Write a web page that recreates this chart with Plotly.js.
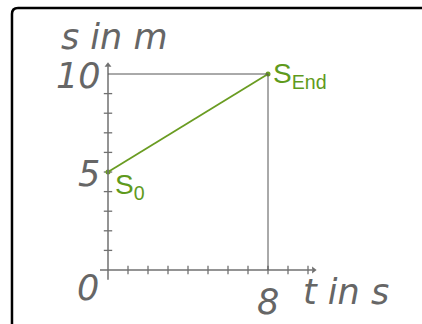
<!DOCTYPE html>
<html>
<head>
<meta charset="utf-8">
<script src="https://cdn.plot.ly/plotly-3.0.1.min.js"></script>
<style>html,body{margin:0;padding:0;background:#fff;overflow:hidden;}#chart{width:422px;height:324px;}</style>
</head>
<body>
<div id="chart"></div>
<script>
// Data
const times = [0, 8];            // t in s
const positions = [5, 10];       // s in m
const xTickValues = [1, 2, 3, 4, 5, 6, 7, 8, 9, 10];
const yTickValues = [1, 2, 3, 4, 5, 6, 7, 8, 9];
const yTickLabels = ["10", "5"];
const yTickLabelValues = [10, 5];
const originLabel = "0";
const xTickLabel = "8";
const xTickLabelValue = 8;
const startLabel = "S<sub>0</sub>";
const endLabel = "S<sub>End</sub>";
const yAxisTitle = "s in m";
const xAxisTitle = "t in s";

const gray = '#666666';
const axisGray = '#707070';
const green = '#6a9c22';
const greenText = '#5f9a1c';
const grayFont = {family: 'DejaVu Sans', size: 35, color: gray, style: 'italic'};
const greenFont = {family: 'Liberation Sans, Arial', size: 28, color: greenText};

const tEnd = times[times.length - 1];
const sEnd = positions[positions.length - 1];
const sStart = positions[0];

const traces = [
  {x: yTickValues.map(() => 0), y: yTickValues, mode: 'markers', hoverinfo: 'skip',
   marker: {symbol: 'line-ew', size: 6, line: {width: 1.3, color: axisGray}}},
  {x: xTickValues, y: xTickValues.map(() => 0), mode: 'markers', hoverinfo: 'skip',
   marker: {symbol: 'line-ns', size: 6, line: {width: 1.3, color: axisGray}}},
  {x: [0], y: [10.45], mode: 'markers', hoverinfo: 'skip',
   marker: {symbol: 'triangle-up', size: 6, color: axisGray}},
  {x: [10.28], y: [0], mode: 'markers', hoverinfo: 'skip',
   marker: {symbol: 'triangle-right', size: 6, color: axisGray}},
  {x: times, y: positions, mode: 'lines+markers', hoverinfo: 'skip',
   line: {color: green, width: 1.8}, marker: {color: green, size: 5}}
];

const shapes = [
  // frame: top and left edges, cropped at right and bottom
  {type: 'line', xref: 'paper', yref: 'paper', x0: 0.0426, x1: 1.0, y0: 0.9753, y1: 0.9753,
   line: {color: '#000', width: 2.5}},
  {type: 'line', xref: 'paper', yref: 'paper', x0: 0.0284, x1: 0.0284, y0: 0.0, y1: 0.9568,
   line: {color: '#000', width: 2.5}},
  {type: 'path', xref: 'paper', yref: 'paper',
   path: 'M 0.0284,0.9568 Q 0.0284,0.9753 0.0426,0.9753',
   line: {color: '#000', width: 2.5}},
  // axes
  {type: 'line', xref: 'x', yref: 'y', x0: 0, x1: 0, y0: -0.5, y1: 10.4, line: {color: axisGray, width: 1.5}},
  {type: 'line', xref: 'x', yref: 'y', x0: -0.4, x1: 10.2, y0: 0, y1: 0, line: {color: axisGray, width: 1.5}},
  // guide lines
  {type: 'line', xref: 'x', yref: 'y', x0: 0, x1: tEnd, y0: sEnd, y1: sEnd, line: {color: '#555', width: 1}},
  {type: 'line', xref: 'x', yref: 'y', x0: tEnd, x1: tEnd, y0: 0, y1: sEnd, line: {color: '#555', width: 1}}
];

const annotations = [
  {x: 0.3, y: 11.9, text: yAxisTitle, xanchor: 'center', yanchor: 'middle', font: grayFont},
  {x: 11.9, y: -1.12, text: xAxisTitle, xanchor: 'center', yanchor: 'middle', font: grayFont},
  {x: -0.3, y: yTickLabelValues[0] - 0.1, text: yTickLabels[0], xanchor: 'right', yanchor: 'middle', font: grayFont},
  {x: -0.35, y: yTickLabelValues[1] - 0.1, text: yTickLabels[1], xanchor: 'right', yanchor: 'middle', font: grayFont},
  {x: -0.4, y: -0.92, text: originLabel, xanchor: 'right', yanchor: 'middle', font: grayFont},
  {x: xTickLabelValue, y: -1.63, text: xTickLabel, xanchor: 'center', yanchor: 'middle', font: grayFont},
  {x: 0.3, y: sStart - 0.75, text: startLabel, xanchor: 'left', yanchor: 'middle', font: greenFont},
  {x: tEnd + 0.2, y: sEnd - 0.1, text: endLabel, xanchor: 'left', yanchor: 'middle', font: greenFont}
].map(a => Object.assign({xref: 'x', yref: 'y', showarrow: false, borderpad: 0}, a));

const layout = {
  width: 422, height: 324,
  margin: {l: 0, r: 0, t: 0, b: 0, pad: 0},
  paper_bgcolor: '#fff', plot_bgcolor: '#fff',
  showlegend: false,
  xaxis: {range: [-5.4, 15.7], visible: false, fixedrange: true},
  yaxis: {range: [-2.755, 13.776], visible: false, fixedrange: true},
  shapes: shapes,
  annotations: annotations
};

Plotly.newPlot('chart', traces, layout, {staticPlot: true, displayModeBar: false});
</script>
</body>
</html>
